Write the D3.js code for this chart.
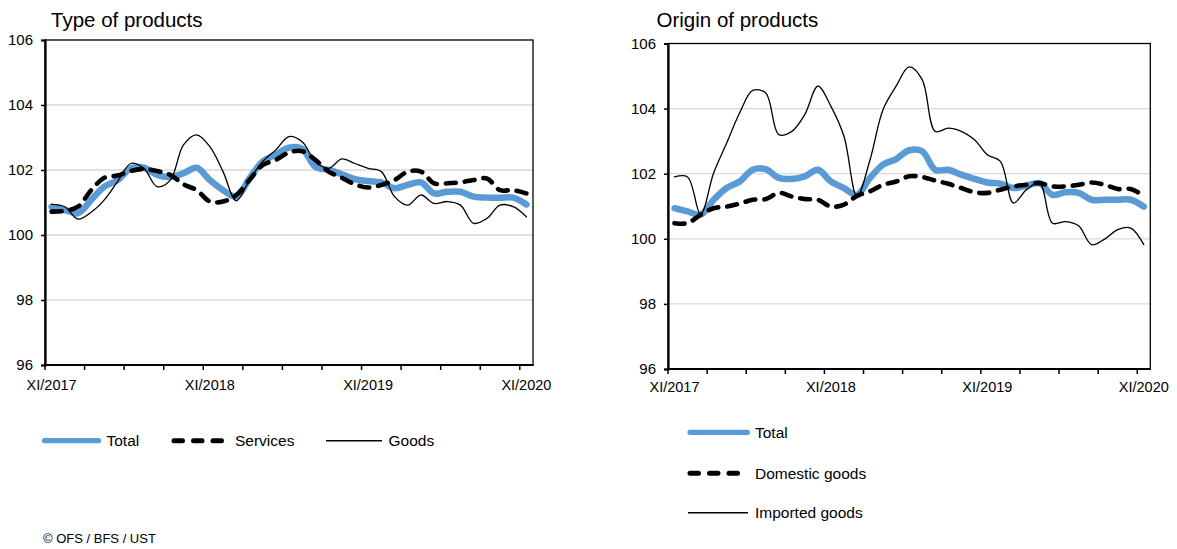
<!DOCTYPE html>
<html><head><meta charset="utf-8">
<script src="https://cdn.jsdelivr.net/npm/d3@7"></script>
<style>
body{margin:0;background:#fff}
svg{display:block}
text{font-family:"Liberation Sans",Arial,Helvetica,sans-serif;fill:#000}
</style>
</head><body>
<svg id="c" width="1177" height="549"></svg>
<script>
const categories = ["XI/2017","XII/2017","I/2018","II/2018","III/2018","IV/2018","V/2018","VI/2018","VII/2018","VIII/2018","IX/2018","X/2018",
  "XI/2018","XII/2018","I/2019","II/2019","III/2019","IV/2019","V/2019","VI/2019","VII/2019","VIII/2019","IX/2019","X/2019",
  "XI/2019","XII/2019","I/2020","II/2020","III/2020","IV/2020","V/2020","VI/2020","VII/2020","VIII/2020","IX/2020","X/2020","XI/2020"];
const tickLabels = ["XI/2017","XI/2018","XI/2019","XI/2020"];
const yTicks = [96,98,100,102,104,106];

const typeTotal    = [100.87,100.77,100.67,101.08,101.49,101.69,102.05,102.07,101.85,101.79,101.90,102.07,101.69,101.38,101.18,101.74,102.26,102.48,102.69,102.65,102.10,102.00,101.87,101.72,101.66,101.62,101.44,101.54,101.62,101.28,101.33,101.33,101.18,101.15,101.15,101.15,100.94];
const typeServices = [100.72,100.74,100.87,101.38,101.76,101.83,101.97,102.03,101.97,101.85,101.56,101.38,101.03,101.03,101.23,101.69,102.15,102.31,102.54,102.58,102.31,101.95,101.76,101.56,101.46,101.54,101.69,101.95,101.95,101.59,101.59,101.62,101.69,101.74,101.38,101.38,101.28];
const typeGoods    = [100.94,100.87,100.49,100.70,101.08,101.64,102.20,102.05,101.49,101.69,102.77,103.08,102.72,101.95,101.05,101.69,102.26,102.62,103.03,102.87,102.26,102.05,102.34,102.20,102.05,101.95,101.18,100.92,101.23,100.97,101.03,100.92,100.36,100.51,100.92,100.87,100.56];

const originTotal    = [100.94,100.84,100.74,101.20,101.56,101.76,102.12,102.14,101.87,101.84,101.92,102.12,101.76,101.56,101.35,101.87,102.28,102.45,102.72,102.69,102.12,102.12,101.97,101.84,101.73,101.69,101.56,101.63,101.71,101.35,101.43,101.41,101.20,101.20,101.20,101.20,100.99];
const originDomestic = [100.48,100.48,100.74,100.94,100.99,101.08,101.20,101.22,101.41,101.30,101.22,101.20,100.99,101.05,101.32,101.46,101.66,101.76,101.92,101.90,101.79,101.69,101.56,101.43,101.41,101.51,101.61,101.66,101.71,101.61,101.61,101.66,101.73,101.66,101.53,101.53,101.32];
const originImported = [101.90,101.90,100.75,102.02,102.94,103.87,104.56,104.48,103.20,103.30,103.82,104.69,104.07,103.15,101.30,102.43,103.97,104.69,105.28,104.89,103.30,103.40,103.30,103.05,102.58,102.38,101.10,101.51,101.71,100.48,100.53,100.40,99.82,99.99,100.28,100.33,99.82];

const leftTitle = "Type of products";
const rightTitle = "Origin of products";
const leftLegend = ["Total","Services","Goods"];
const rightLegend = ["Total","Domestic goods","Imported goods"];
const source = "© OFS / BFS / UST";

const BLUE = "#5B9BD5";
const styles = [
  {stroke: BLUE, width: 6.5, dash: null},
  {stroke: "#000", width: 4.6, dash: "10,9"},
  {stroke: "#000", width: 1.3, dash: null}
];

const svg = d3.select("#c");

function drawPanel(cfg) {
  const g = svg.append("g");
  const x = d3.scaleBand().domain(categories).range([cfg.x0, cfg.x1]).padding(0);
  const bw = x.bandwidth();
  const y = d3.scaleLinear().domain([96,106]).range([cfg.y1, cfg.y0]);

  g.selectAll("line.grid").data(yTicks.filter(t => t > 96 && t < 106)).enter()
    .append("line").attr("x1", cfg.x0).attr("x2", cfg.x1)
    .attr("y1", d => y(d)).attr("y2", d => y(d))
    .attr("stroke", "#d9d9d9").attr("stroke-width", 1.3);

  g.append("rect").attr("x", cfg.x0).attr("y", cfg.y0)
    .attr("width", cfg.x1 - cfg.x0).attr("height", cfg.y1 - cfg.y0)
    .attr("fill", "none").attr("stroke", "#000").attr("stroke-width", 1.3);

  const yAxis = d3.axisLeft(y).tickValues(yTicks).tickSize(4).tickPadding(8).tickFormat(d3.format("d"));
  const ya = g.append("g").attr("transform", `translate(${cfg.x0},0)`).call(yAxis);
  ya.select(".domain").attr("stroke", "#000").attr("stroke-width", 2.2);
  ya.selectAll(".tick line").attr("stroke", "#000").attr("stroke-width", 1.5);
  ya.selectAll(".tick text").attr("font-size", 15).attr("font-family", '"Liberation Sans",Arial,sans-serif').attr("fill", "#000");

  g.append("line").attr("x1", cfg.x0 - 1).attr("x2", cfg.x1 + 0.6)
    .attr("y1", cfg.y1).attr("y2", cfg.y1).attr("stroke", "#000").attr("stroke-width", 2.2);
  g.selectAll("line.xt").data(categories.filter((c, i) => i % 3 === 0)).enter()
    .append("line").attr("x1", d => x(d)).attr("x2", d => x(d))
    .attr("y1", cfg.y1).attr("y2", cfg.y1 + 5).attr("stroke", "#000").attr("stroke-width", 1.5);
  g.selectAll("text.xl").data(tickLabels).enter()
    .append("text").attr("x", d => x(d) + bw / 2).attr("y", cfg.xLabelY)
    .attr("text-anchor", "middle").attr("font-size", 14.5).text(d => d);

  const line = d3.line().x((d, i) => x(categories[i]) + bw / 2).y(d => y(d)).curve(d3.curveCatmullRom.alpha(0.5));
  cfg.series.forEach((s, k) => {
    const st = styles[k];
    const p = g.append("path").datum(s).attr("d", line).attr("fill", "none")
      .attr("stroke", st.stroke).attr("stroke-width", st.width)
      .attr("stroke-linejoin", "round").attr("stroke-linecap", "round");
    if (st.dash) p.attr("stroke-dasharray", st.dash);
  });

  g.append("text").attr("x", cfg.titleX).attr("y", cfg.titleY).attr("font-size", 20.5).text(cfg.title);

  cfg.legend.forEach((lab, k) => {
    const L = cfg.legendPos[k];
    const st = styles[k];
    const ln = g.append("line").attr("x1", L.x1).attr("x2", L.x2).attr("y1", L.y).attr("y2", L.y)
      .attr("stroke", st.stroke).attr("stroke-linecap", k === 2 ? "butt" : "round")
      .attr("stroke-width", k === 0 ? 5.2 : (k === 1 ? 5 : 1.4));
    if (st.dash) ln.attr("stroke-dasharray", "8.5,11");
    g.append("text").attr("x", L.tx).attr("y", L.y + 5.5).attr("font-size", 15.5).text(lab);
  });
}

drawPanel({
  x0: 45, x1: 533, y0: 40, y1: 365, xLabelY: 390,
  title: leftTitle, titleX: 51, titleY: 27,
  series: [typeTotal, typeServices, typeGoods],
  legend: leftLegend,
  legendPos: [
    {x1: 44.5, x2: 98.5, y: 440.7, tx: 106.5},
    {x1: 174, x2: 222, y: 440.7, tx: 235},
    {x1: 326, x2: 382, y: 440.7, tx: 388.5}
  ]
});

drawPanel({
  x0: 668, x1: 1150.3, y0: 43.5, y1: 369, xLabelY: 391.5,
  title: rightTitle, titleX: 656.5, titleY: 27,
  series: [originTotal, originDomestic, originImported],
  legend: rightLegend,
  legendPos: [
    {x1: 690, x2: 747.5, y: 432.3, tx: 755},
    {x1: 690, x2: 742, y: 473.3, tx: 755},
    {x1: 688, x2: 748, y: 512.7, tx: 755}
  ]
});

svg.append("text").attr("x", 43).attr("y", 543).attr("font-size", 13).text(source);
</script>
</body></html>
